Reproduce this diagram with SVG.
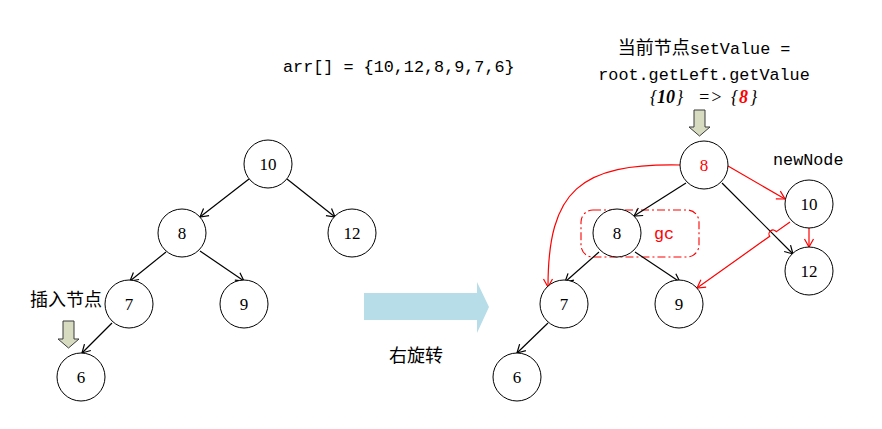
<svg xmlns="http://www.w3.org/2000/svg" width="882" height="429" viewBox="0 0 882 429">
<defs>
<style>
.n{fill:#fff;stroke:#000;stroke-width:1}
.lb{font-family:"Liberation Serif",serif;font-size:17px;text-anchor:middle;fill:#000}
.e{fill:none;stroke:#000;stroke-width:1.2;marker-end:url(#ab)}
.r{fill:none;stroke:#f00;stroke-width:1.2;marker-end:url(#ar)}
.mono{font-family:"Liberation Mono",monospace;font-size:16.8px;fill:#000}
.cjk{font-family:"Noto Sans CJK SC",sans-serif;font-size:18px;fill:#000}
.down{fill:#d7dcc1;stroke:#3a3a3a;stroke-width:1}
</style>
<marker id="ab" viewBox="-10 -6 12 12" refX="0" refY="0" markerWidth="12" markerHeight="12" markerUnits="userSpaceOnUse" orient="auto"><path d="M-8,-4.5 L0,0 L-8,4.5" fill="none" stroke="#000" stroke-width="1.2"/></marker>
<marker id="ar" viewBox="-10 -6 12 12" refX="0" refY="0" markerWidth="12" markerHeight="12" markerUnits="userSpaceOnUse" orient="auto"><path d="M-8,-4.5 L0,0 L-8,4.5" fill="none" stroke="#f00" stroke-width="1.2"/></marker>
</defs>
<rect width="882" height="429" fill="#fff"/>

<text class="mono" x="283" y="72">arr[] = {10,12,8,9,7,6}</text>

<g id="title">
<text x="704" y="54" text-anchor="middle"><tspan class="cjk" font-size="19">当前节点</tspan><tspan class="mono">setValue =</tspan></text>
<text class="mono" x="704" y="80" text-anchor="middle">root.getLeft.getValue</text>
<text font-family="Liberation Serif,serif" font-size="18" font-style="italic" y="103"><tspan x="650">{</tspan><tspan x="657" font-weight="bold">10</tspan><tspan x="676">}</tspan><tspan x="698">=&gt;</tspan><tspan x="731">{</tspan><tspan x="739" font-weight="bold" fill="#f00">8</tspan><tspan x="750">}</tspan></text>
</g>

<path class="down" d="M694,110 H705 V127 H710 L699.5,136 L689,127 H694 Z"/>
<path class="down" d="M63,321 H74 V339 H79 L68.5,348 L58,339 H63 Z"/>
<text class="cjk" x="30" y="306">插入节点</text>

<path d="M364,293 H477 V282 L489,307 L477,333 V320 H364 Z" fill="#b7dde8"/>
<text class="cjk" x="389" y="362">右旋转</text>

<rect x="581" y="210" width="118" height="47" rx="12" fill="none" stroke="#f00" stroke-width="1.1" stroke-dasharray="8,3,2,3"/>
<text x="664" y="239" font-family="Liberation Mono,monospace" font-size="16.8" fill="#f00" text-anchor="middle">gc</text>
<text class="mono" x="773" y="165">newNode</text>

<g id="connectors">
<path class="e" d="M249,179 L200,217"/>
<path class="e" d="M287,179 L335,217"/>
<path class="e" d="M166,252 L130,281"/>
<path class="e" d="M200,251 L244,281"/>
<path class="e" d="M112,323 L82,353"/>
<path class="e" d="M686,183 L634,216"/>
<path class="e" d="M722,183 L793,254"/>
<path class="e" d="M599,252 L565,282"/>
<path class="e" d="M635,252 L680,282"/>
<path class="e" d="M548,323 L517,353"/>
<path class="r" d="M681,165 C580,163 548,190 548,287"/>
<path class="r" d="M728,166 L785,199"/>
<path class="r" d="M809,228 L809,247"/>
<path class="r" d="M790,222 L776.3,231.7 A4,4 0 0 0 769.7,236.3 L697,288"/>
</g>

<g id="n10"><circle class="n" cx="268" cy="164" r="24"/><text class="lb" x="268" y="170">10</text></g>
<g id="n8"><circle class="n" cx="182" cy="233" r="24"/><text class="lb" x="182" y="239">8</text></g>
<g id="n12"><circle class="n" cx="352" cy="233" r="24"/><text class="lb" x="352" y="239">12</text></g>
<g id="n7"><circle class="n" cx="129" cy="304" r="24"/><text class="lb" x="129" y="310">7</text></g>
<g id="n9"><circle class="n" cx="244" cy="304" r="24"/><text class="lb" x="244" y="310">9</text></g>
<g id="n6"><circle class="n" cx="81" cy="377" r="24"/><text class="lb" x="81" y="383">6</text></g>

<g id="r8"><circle class="n" cx="704" cy="165" r="24"/><text class="lb" x="704" y="171" style="fill:#f00">8</text></g>
<g id="r10"><circle class="n" cx="809" cy="204" r="24"/><text class="lb" x="809" y="210">10</text></g>
<g id="r12"><circle class="n" cx="809" cy="271" r="24"/><text class="lb" x="809" y="277">12</text></g>
<g id="rs8"><circle class="n" cx="617" cy="233" r="24"/><text class="lb" x="617" y="239">8</text></g>
<g id="r7"><circle class="n" cx="564" cy="304" r="24"/><text class="lb" x="564" y="310">7</text></g>
<g id="r9"><circle class="n" cx="679" cy="304" r="24"/><text class="lb" x="679" y="310">9</text></g>
<g id="r6"><circle class="n" cx="517" cy="377" r="24"/><text class="lb" x="517" y="383">6</text></g>
</svg>
